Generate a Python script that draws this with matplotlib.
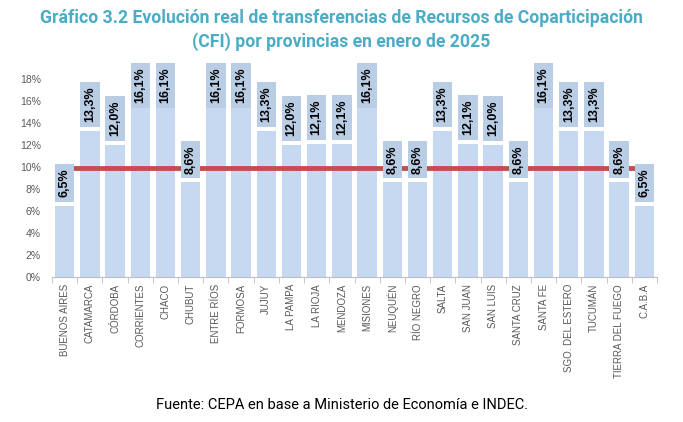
import matplotlib
matplotlib.use('Agg')
import matplotlib.pyplot as plt

provincias = ['BUENOS AIRES', 'CATAMARCA', 'CÓRDOBA', 'CORRIENTES', 'CHACO', 'CHUBUT',
              'ENTRE RÍOS', 'FORMOSA', 'JUJUY', 'LA PAMPA', 'LA RIOJA', 'MENDOZA',
              'MISIONES', 'NEUQUÉN', 'RÍO NEGRO', 'SALTA', 'SAN JUAN', 'SAN LUIS',
              'SANTA CRUZ', 'SANTA FE', 'SGO. DEL ESTERO', 'TUCUMÁN', 'TIERRA DEL FUEGO', 'C.A.B.A']
variacion = [6.5, 13.3, 12.0, 16.1, 16.1, 8.6, 16.1, 16.1, 13.3, 12.0, 12.1, 12.1,
             16.1, 8.6, 8.6, 13.3, 12.1, 12.0, 8.6, 16.1, 13.3, 13.3, 8.6, 6.5]
promedio = 9.9
yticks = [0, 2, 4, 6, 8, 10, 12, 14, 16, 18]

bar_c = '#c6d9f1'
box_c = '#b9cde5'
ymax = 19.5
w = 0.77

fig = plt.figure(figsize=(6.83, 4.22), dpi=100)
ax = fig.add_axes([52/683, 1 - 277/422, 605/683, (277 - 62.5)/422])

x = list(range(len(provincias)))
ax.bar(x, variacion, width=w, color=bar_c, zorder=1)
ax.plot(x, [promedio]*len(x), color='#c0504d', lw=3.5, zorder=2, solid_capstyle='butt')

# etiquetas con caja, como en excel
for i, v in enumerate(variacion):
    txt = f'{v:.1f}'.replace('.', ',') + '%'
    h = 4.1 if len(txt) == 5 else 3.4
    b = min(v + 0.36, ymax - h)
    ax.bar(i, h, bottom=b, width=w, color=box_c, zorder=3)
    ax.text(i, b + h/2, txt, rotation=90, ha='center', va='center', fontsize=9,
            fontweight='bold', family='Liberation Sans', color='black', zorder=4)

ax.set_ylim(0, ymax)
ax.set_xlim(-0.5, len(x) - 0.5)
ax.set_yticks(yticks)
ax.set_yticklabels([f'{t}%' for t in yticks], fontsize=7.5, color='#595959', family='Liberation Sans')
ax.set_xticks(x)
ax.set_xticklabels(provincias, rotation=90, fontsize=7, color='#595959', family='Liberation Sans')
ax.set_xticks([i - 0.5 for i in range(len(x) + 1)], minor=True)
ax.tick_params(axis='x', which='major', length=0, pad=5)
ax.tick_params(axis='x', which='minor', length=4, color='#bfbfbf')
ax.tick_params(axis='y', length=0, pad=8)
for s in ['top', 'right', 'left']:
    ax.spines[s].set_visible(False)
ax.spines['bottom'].set_color('#bfbfbf')

fig.text(0.5, 1 - 18/422, 'Gráfico 3.2 Evolución real de transferencias de Recursos de Coparticipación',
         ha='center', va='center', fontsize=12.7, fontweight='bold', color='#4bacc6', family='Roboto')
fig.text(0.5, 1 - 42/422, '(CFI) por provincias en enero de 2025',
         ha='center', va='center', fontsize=12.7, fontweight='bold', color='#4bacc6', family='Roboto')
fig.text(0.5, 1 - 405/422, 'Fuente: CEPA en base a Ministerio de Economía e INDEC.',
         ha='center', va='center', fontsize=10.5, color='black', family='Roboto')

fig.savefig('out.png', dpi=100)
